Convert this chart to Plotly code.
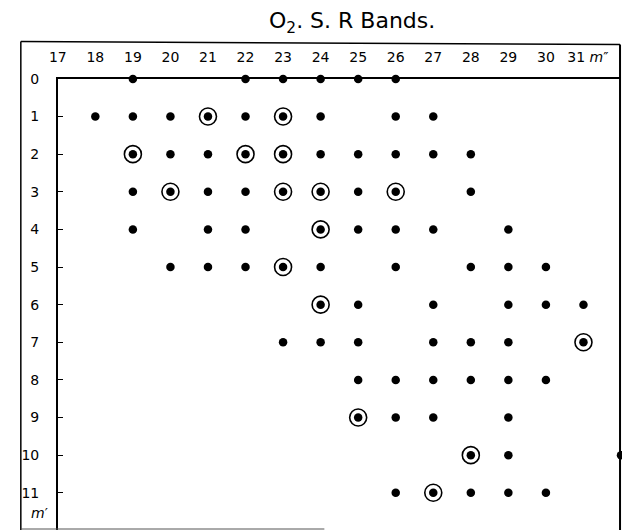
import plotly.graph_objects as go

# m'' (columns) of every observed line, one list per m' row
row0 = [19, 22, 23, 24, 25, 26]
row1 = [18, 19, 20, 21, 22, 23, 24, 26, 27]
row2 = [19, 20, 21, 22, 23, 24, 25, 26, 27, 28]
row3 = [19, 20, 21, 22, 23, 24, 25, 26, 28]
row4 = [19, 21, 22, 24, 25, 26, 27, 29]
row5 = [20, 21, 22, 23, 24, 26, 28, 29, 30]
row6 = [24, 25, 27, 29, 30, 31]
row7 = [23, 24, 25, 27, 28, 29, 31]
row8 = [25, 26, 27, 28, 29, 30]
row9 = [25, 26, 27, 29]
row10 = [28, 29, 32]
row11 = [26, 27, 28, 29, 30]
rows = [row0, row1, row2, row3, row4, row5, row6, row7, row8, row9, row10, row11]

# circled (ringed) points: m'' and m'
ring_m2 = [21, 23, 19, 22, 23, 20, 23, 24, 26, 24, 23, 24, 31, 25, 28, 27]
ring_m1 = [1, 1, 2, 2, 2, 3, 3, 3, 3, 4, 5, 6, 7, 9, 10, 11]

x_ticks = list(range(17, 32))
x_labels = [str(v) for v in range(17, 31)] + ["  31 <i>m</i>″"]
y_ticks = list(range(0, 12))
y_labels = [str(v) for v in y_ticks]

dot_x, dot_y = [], []
for n, r in enumerate(rows):
    for m in r:
        dot_x.append(m)
        dot_y.append(n)

W, H = 622, 530
X0, X1 = 49.5, 621.0      # plot area pixel edges
Y0, Y1 = 72.0, 530.0
DX, DY = 38.1, 38.2

fig = go.Figure()
fig.add_trace(go.Scatter(
    x=ring_m2, y=ring_m1, mode="markers",
    marker=dict(symbol="circle-open", size=17, color="black", line=dict(width=1.6, color="black")),
    hoverinfo="skip", cliponaxis=False))
fig.add_trace(go.Scatter(
    x=dot_x, y=dot_y, mode="markers",
    marker=dict(symbol="circle", size=8.5, color="black"),
    hoverinfo="skip", cliponaxis=False))

font = dict(family="DejaVu Sans", size=14, color="black")

fig.update_layout(
    width=W, height=H, margin=dict(l=0, r=0, t=0, b=0),
    paper_bgcolor="white", plot_bgcolor="white", showlegend=False,
    font=font,
    xaxis=dict(domain=[X0 / W, X1 / W], range=[17, 17 + (X1 - X0) / DX],
               side="top", tickmode="array", tickvals=x_ticks, ticktext=x_labels,
               showgrid=False, zeroline=False, showline=True, linecolor="black", linewidth=1.5,
               ticks="", ticklabelstandoff=10, tickfont=font),
    yaxis=dict(domain=[0, 1 - Y0 / H], range=[(Y1 - Y0) / DY, 0],
               tickmode="array", tickvals=y_ticks, ticktext=y_labels,
               showgrid=False, zeroline=False, showline=True, linecolor="black", linewidth=1.5,
               ticks="inside", ticklen=5, tickwidth=1, tickcolor="black",
               ticklabelstandoff=14, tickfont=font),
)

def px(x):
    return x / W

def py(y):
    return 1 - y / H

line = dict(color="black", width=1.5)
fig.add_shape(type="line", xref="paper", yref="paper", x0=px(12), x1=px(12), y0=py(34), y1=py(530), line=line)
fig.add_shape(type="line", xref="paper", yref="paper", x0=px(12), x1=px(620), y0=py(34), y1=py(37), line=line)
fig.add_shape(type="line", xref="paper", yref="paper", x0=px(620), x1=px(620), y0=py(37), y1=py(530),
              line=dict(color="black", width=2))
fig.add_shape(type="line", xref="paper", yref="paper", x0=px(12), x1=px(320), y0=py(529), y1=py(529),
              line=dict(color="#555", width=1))

fig.add_annotation(xref="paper", yref="paper", x=px(348), y=py(15), text="O<sub>2</sub>. S. R Bands.",
                   showarrow=False, xanchor="center", yanchor="middle",
                   font=dict(family="DejaVu Sans", size=22, color="black"))
fig.add_annotation(xref="paper", yref="paper", x=px(31), y=py(513), text="<i>m</i>′",
                   showarrow=False, xanchor="center", yanchor="middle", font=font)

fig.write_html("out.html")
